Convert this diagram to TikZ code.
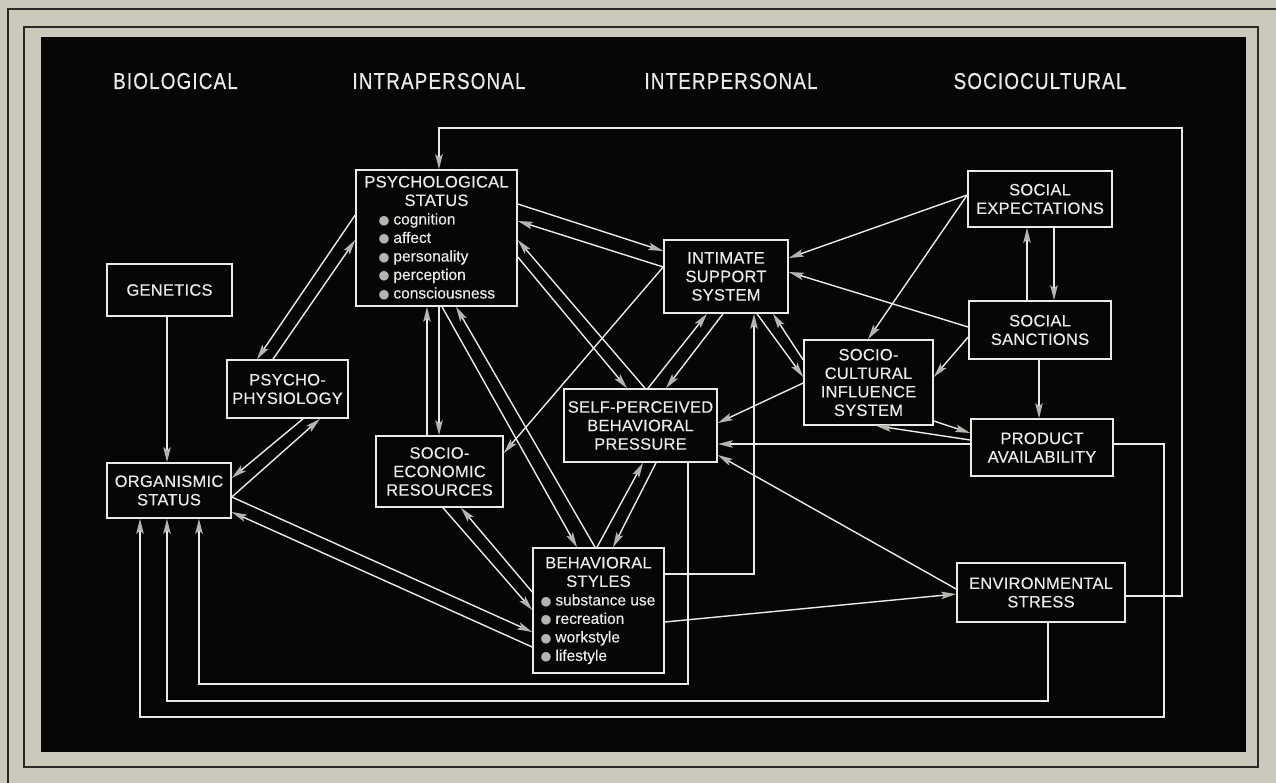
\documentclass[tikz,border=0pt]{standalone}
\usepackage{fontspec}
\setmainfont{Liberation Sans}
\newfontfamily\hdrfont[FakeStretch=0.82,LetterSpace=5,FakeBold=0.6]{Liberation Sans}
\newfontfamily\boxfont[LetterSpace=1.5,FakeBold=0.3]{Liberation Sans}
\newfontfamily\lowfont[FakeBold=0.3]{Liberation Sans}
\newfontfamily\symfont{DejaVu Sans}
\usetikzlibrary{arrows.meta}
\definecolor{bg}{HTML}{CBC9BB}
\definecolor{ink}{HTML}{EAEAE6}
\definecolor{tipgrey}{HTML}{B5B5B0}
\definecolor{blk}{HTML}{060606}
\definecolor{framec}{HTML}{2A2A28}
\newcommand{\bl}[1]{\makebox[116pt][l]{\textcolor{tipgrey}{\symfont\fontsize{12.5}{12.5}\selectfont ●}\hspace{4pt}{\lowfont\fontsize{15.5}{18.5}\selectfont #1}}}
\tikzset{
  box/.style={draw=ink, line width=1.6pt, fill=blk, inner sep=0pt, align=center, text=ink,
    font=\boxfont\fontsize{16.5}{18.5}\selectfont},
  arr/.style={draw=ink, line width=1.4pt, -{Stealth[length=15pt,width=7.5pt,inset=3pt,color=tipgrey]}},
  hdr/.style={text=ink, font=\hdrfont\fontsize{23}{23}\selectfont, anchor=base, inner sep=0pt},
  framel/.style={draw=framec, line width=1.2pt}
}
\begin{document}
\begin{tikzpicture}[x=1pt,y=-1pt]
\useasboundingbox (0,0) rectangle (1276,783);
\fill[bg] (0,0) rectangle (1276,783);
\draw[framel] (8,783) -- (8,9) -- (1276,9);
\draw[framel] (24,27) rectangle (1258,767);
\fill[blk] (41,37) rectangle (1246,752);

% headers
\node[hdr] (hbio) at (175.5,89) {BIOLOGICAL};
\node[hdr] (hintra) at (439,89) {INTRAPERSONAL};
\node[hdr] (hinter) at (731,89) {INTERPERSONAL};
\node[hdr] (hsocio) at (1040,89) {SOCIOCULTURAL};

% boxes
\node[box, minimum width=125pt, minimum height=52pt] (genetics) at (169.5,290) {GENETICS};
\node[box, minimum width=121pt, minimum height=58pt] (physio) at (287.5,389) {PSYCHO-\\PHYSIOLOGY};
\node[box, minimum width=124pt, minimum height=55pt] (organismic) at (169,490.5) {ORGANISMIC\\STATUS};
\node[box, minimum width=161pt, minimum height=136pt] (psych) at (436.5,238)
  {PSYCHOLOGICAL\\STATUS\\\bl{cognition}\\\bl{affect}\\\bl{personality}\\\bl{perception}\\\bl{consciousness}};
\node[box, minimum width=127pt, minimum height=71pt] (socioeco) at (439.5,471.5) {SOCIO-\\ECONOMIC\\RESOURCES};
\node[box, minimum width=131pt, minimum height=125pt] (behav) at (598.5,610.5)
  {BEHAVIORAL\\STYLES\\\bl{substance use}\\\bl{recreation}\\\bl{workstyle}\\\bl{lifestyle}};
\node[box, minimum width=124pt, minimum height=73pt] (intimate) at (726,276.5) {INTIMATE\\SUPPORT\\SYSTEM};
\node[box, minimum width=153pt, minimum height=73pt] (selfp) at (640.5,425.5) {SELF-PERCEIVED\\BEHAVIORAL\\PRESSURE};
\node[box, minimum width=129pt, minimum height=85pt] (sociocult) at (868.5,382.5) {SOCIO-\\CULTURAL\\INFLUENCE\\SYSTEM};
\node[box, minimum width=144pt, minimum height=56pt] (socexp) at (1040,199) {SOCIAL\\EXPECTATIONS};
\node[box, minimum width=142pt, minimum height=58pt] (socsanc) at (1040,330) {SOCIAL\\SANCTIONS};
\node[box, minimum width=142pt, minimum height=57pt] (product) at (1042,447.5) {PRODUCT\\AVAILABILITY};
\node[box, minimum width=168pt, minimum height=59pt] (env) at (1041,592.5) {ENVIRONMENTAL\\STRESS};

% connectors
\draw[arr] (genetics.south -| 167,0) -- (organismic.north -| 167,0);
\draw[arr] (psych.west |- 0,215) -- (physio.north -| 257,0);
\draw[arr] (physio.north -| 273,0) -- (psych.west |- 0,240);
\draw[arr] (physio.south -| 303,0) -- (organismic.east |- 0,478);
\draw[arr] (organismic.east |- 0,497) -- (physio.south -| 320,0);
\draw[arr] (organismic.east |- 0,497) -- (behav.west |- 0,632);
\draw[arr] (behav.west |- 0,647) -- (organismic.east |- 0,512);
\draw[arr] (selfp.south -| 688,0) -- (688,684) -| (organismic.south -| 199,0);
\draw[arr] (env.south -| 1048,0) -- (1048,701) -| (organismic.south -| 167,0);
\draw[arr] (product.east |- 0,444) -| (1164,717) -| (organismic.south -| 140,0);
\draw[arr] (env.east |- 0,596) -| (1182,128) -| (psych.north -| 439,0);
\draw[arr] (behav.east |- 0,622) -- (env.west |- 0,594);
\draw[arr] (env.west |- 0,589) -- (selfp.east |- 0,455);
\draw[arr] (product.west |- 0,444) -- (selfp.east |- 0,444);
\draw[arr] (sociocult.east |- 0,421) -- (product.west |- 0,433);
\draw[arr] (product.west |- 0,440) -- (sociocult.south -| 876,0);
\draw[arr] (sociocult.west |- 0,383) -- (selfp.east |- 0,423);
\draw[arr] (intimate.south -| 757,0) -- (sociocult.west |- 0,377);
\draw[arr] (sociocult.west |- 0,360) -- (intimate.south -| 773,0);
\draw[arr] (behav.east |- 0,574) -| (intimate.south -| 754,0);
\draw[arr] (selfp.north -| 648,0) -- (intimate.south -| 707,0);
\draw[arr] (intimate.south -| 723,0) -- (selfp.north -| 666,0);
\draw[arr] (intimate.west |- 0,267) -- (socioeco.east |- 0,453);
\draw[arr] (psych.east |- 0,204) -- (intimate.west |- 0,251);
\draw[arr] (intimate.west |- 0,267) -- (psych.east |- 0,221);
\draw[arr] (psych.east |- 0,257) -- (selfp.north -| 627,0);
\draw[arr] (selfp.north -| 645,0) -- (psych.east |- 0,240);
\draw[arr] (socioeco.north -| 427,0) -- (psych.south -| 427,0);
\draw[arr] (psych.south -| 439,0) -- (socioeco.north -| 439,0);
\draw[arr] (psych.south -| 442,0) -- (behav.north -| 577,0);
\draw[arr] (behav.north -| 595,0) -- (psych.south -| 456,0);
\draw[arr] (behav.north -| 597,0) -- (selfp.south -| 643,0);
\draw[arr] (selfp.south -| 656,0) -- (behav.north -| 613,0);
\draw[arr] (socioeco.south -| 443,0) -- (behav.west |- 0,610);
\draw[arr] (behav.west |- 0,592) -- (socioeco.south -| 461,0);
\draw[arr] (socexp.west |- 0,195) -- (intimate.east |- 0,258);
\draw[arr] (socexp.west |- 0,195) -- (sociocult.north -| 868,0);
\draw[arr] (socsanc.west |- 0,327) -- (intimate.east |- 0,272);
\draw[arr] (socsanc.west |- 0,337) -- (sociocult.east |- 0,377);
\draw[arr] (socsanc.north -| 1027,0) -- (socexp.south -| 1027,0);
\draw[arr] (socexp.south -| 1054,0) -- (socsanc.north -| 1054,0);
\draw[arr] (socsanc.south -| 1039,0) -- (product.north -| 1039,0);
\end{tikzpicture}
\end{document}
